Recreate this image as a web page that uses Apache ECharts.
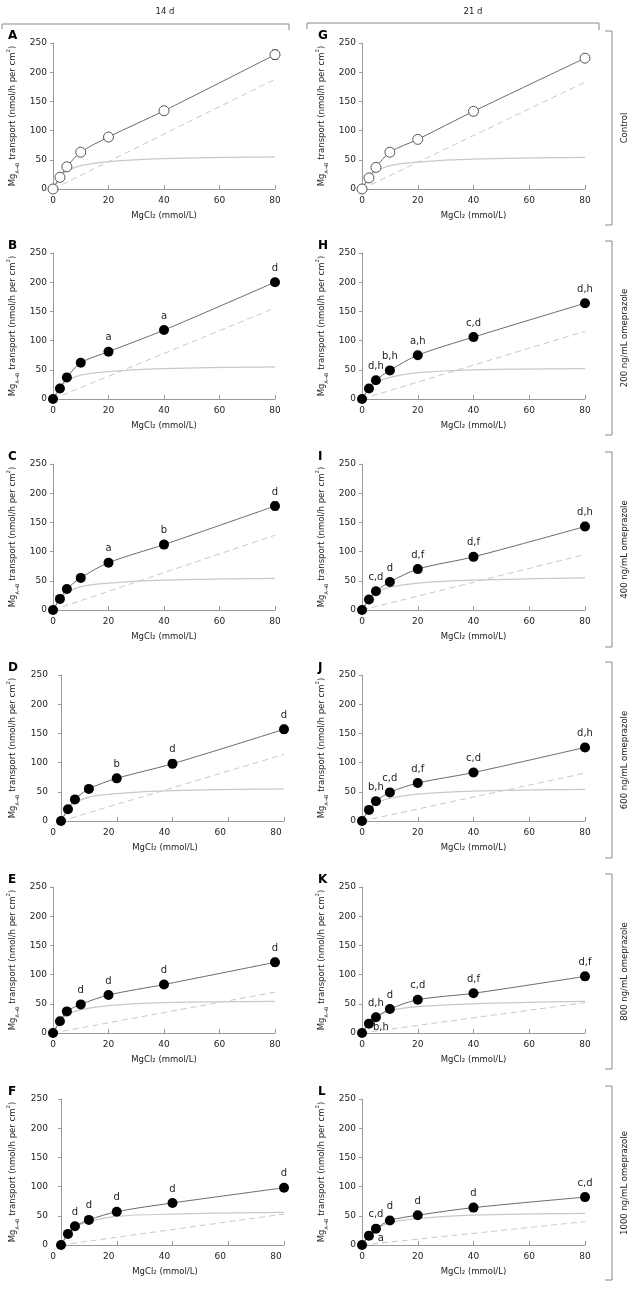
<!DOCTYPE html>
<html>
<head>
<meta charset="utf-8">
<script src="https://cdn.jsdelivr.net/npm/echarts@6/dist/echarts.min.js"></script>
<style>
html,body{margin:0;padding:0;background:#fff;}
#chart{width:636px;height:1291px;}
</style>
</head>
<body>
<div id="chart"></div>
<script>
// ---------- data ----------
const conc = [0, 2.5, 5, 10, 20, 40, 80];           // MgCl2 (mmol/L)
const xTickInterval = 20;
const yTickInterval = 50;
const columnTitles = ['14 d', '21 d'];
const rowTitles = ['Control', '200 ng/mL omeprazole', '400 ng/mL omeprazole',
                   '600 ng/mL omeprazole', '800 ng/mL omeprazole', '1000 ng/mL omeprazole'];
const panelLetters = ['A','B','C','D','E','F','G','H','I','J','K','L'];

// total transport (mean), SEM, saturable component, passive (linear) component end value, significance labels
const meanA = [0, 20, 38, 63, 89, 134, 230];
const semA  = [0, 2, 2, 3, 4, 5, 8];
const satA  = [0, 21, 31, 40, 47, 52, 55];
const linA  = [0, 188];
const sigA  = ['', '', '', '', '', '', ''];

const meanB = [0, 18, 37, 62, 81, 118, 200];
const semB  = [0, 2, 2, 3, 3, 4, 4];
const satB  = [0, 19, 31, 41, 47, 52, 55];
const linB  = [0, 156];
const sigB  = ['', '', '', '', 'a', 'a', 'd'];

const meanC = [0, 19, 36, 55, 81, 112, 178];
const semC  = [0, 2, 2, 3, 3, 6, 7];
const satC  = [0, 19, 30, 40, 46, 51, 54];
const linC  = [0, 128];
const sigC  = ['', '', '', '', 'a', 'b', 'd'];

const meanD = [0, 20, 37, 55, 73, 98, 157];
const semD  = [0, 2, 2, 3, 3, 7, 7];
const satD  = [0, 19, 31, 41, 47, 52, 55];
const linD  = [0, 114];
const sigD  = ['', '', '', '', 'b', 'd', 'd'];

const meanE = [0, 20, 37, 49, 65, 83, 121];
const semE  = [0, 2, 2, 3, 3, 4, 7];
const satE  = [0, 20, 31, 40, 47, 52, 54];
const linE  = [0, 70];
const sigE  = ['', '', '', 'd', 'd', 'd', 'd'];

const meanF = [0, 19, 32, 43, 57, 72, 98];
const semF  = [0, 2, 2, 3, 5, 3, 4];
const satF  = [0, 19, 31, 40, 49, 53, 56];
const linF  = [0, 53];
const sigF  = ['', '', 'd', 'd', 'd', 'd', 'd'];

const meanG = [0, 19, 37, 63, 85, 133, 224];
const semG  = [0, 2, 2, 3, 5, 5, 6];
const satG  = [0, 20, 30, 40, 46, 51, 54];
const linG  = [0, 183];
const sigG  = ['', '', '', '', '', '', ''];

const meanH = [0, 18, 32, 49, 75, 106, 164];
const semH  = [0, 2, 2, 2, 3, 5, 6];
const satH  = [0, 18, 28, 37, 45, 50, 52];
const linH  = [0, 116];
const sigH  = ['', '', 'd,h', 'b,h', 'a,h', 'c,d', 'd,h'];

const meanI = [0, 18, 32, 48, 70, 91, 143];
const semI  = [0, 2, 2, 3, 3, 6, 7];
const satI  = [0, 18, 30, 39, 46, 51, 55];
const linI  = [0, 95];
const sigI  = ['', '', 'c,d', 'd', 'd,f', 'd,f', 'd,h'];

const meanJ = [0, 19, 34, 49, 65, 83, 126];
const semJ  = [0, 2, 2, 3, 3, 6, 6];
const satJ  = [0, 19, 30, 39, 46, 51, 54];
const linJ  = [0, 82];
const sigJ  = ['', '', 'b,h', 'c,d', 'd,f', 'c,d', 'd,h'];

const meanK = [0, 16, 27, 41, 57, 68, 97];
const semK  = [0, 2, 2, 3, 3, 4, 6];
const satK  = [0, 16, 27, 38, 45, 50, 54];
const linK  = [0, 52];
const sigK  = ['', '', 'd,h', 'd', 'c,d', 'd,f', 'd,f'];
const sigLowK = ['', '', 'b,h', '', '', '', ''];

const meanL = [0, 16, 28, 42, 51, 64, 82];
const semL  = [0, 2, 2, 3, 3, 6, 6];
const satL  = [0, 16, 27, 38, 45, 51, 54];
const linL  = [0, 40];
const sigL  = ['', '', 'c,d', 'd', 'd', 'd', 'c,d'];
const sigLowL = ['', '', 'a', '', '', '', ''];

const panels = [
  {mean: meanA, sem: semA, sat: satA, lin: linA, sig: sigA, open: true},
  {mean: meanB, sem: semB, sat: satB, lin: linB, sig: sigB},
  {mean: meanC, sem: semC, sat: satC, lin: linC, sig: sigC},
  {mean: meanD, sem: semD, sat: satD, lin: linD, sig: sigD, shifted: true},
  {mean: meanE, sem: semE, sat: satE, lin: linE, sig: sigE},
  {mean: meanF, sem: semF, sat: satF, lin: linF, sig: sigF, shifted: true},
  {mean: meanG, sem: semG, sat: satG, lin: linG, sig: sigG, open: true},
  {mean: meanH, sem: semH, sat: satH, lin: linH, sig: sigH},
  {mean: meanI, sem: semI, sat: satI, lin: linI, sig: sigI},
  {mean: meanJ, sem: semJ, sat: satJ, lin: linJ, sig: sigJ},
  {mean: meanK, sem: semK, sat: satK, lin: linK, sig: sigK, low: sigLowK},
  {mean: meanL, sem: semL, sat: satL, lin: linL, sig: sigL, low: sigLowL}
];

// ---------- layout ----------
const FONT = 'DejaVu Sans';
const TXT = '#222';
const AXIS = '#9a9a9a';
const rowTops = [43, 253, 464, 675, 887, 1099];
const plotH = 146;
const bracketTops = [31, 241, 452, 662, 874, 1086];
const bracketBottoms = [225, 435, 647, 858, 1069, 1280];

const grids = [], xAxes = [], yAxes = [], series = [], graphics = [];

panels.forEach((p, i) => {
  const col = i < 6 ? 0 : 1;
  const row = i % 6;
  const sh = !!p.shifted;
  const left = col === 0 ? (sh ? 61 : 53) : 362;
  const width = col === 0 ? (sh ? 223 : 222) : 223;
  grids.push({left: left, top: rowTops[row], width: width, height: plotH});

  xAxes.push({
    gridIndex: i, type: 'value', min: 0, max: 80, interval: xTickInterval,
    axisLine: {show: true, lineStyle: {color: AXIS, width: 1}},
    axisTick: {show: true, inside: true, length: 4, lineStyle: {color: AXIS}},
    splitLine: {show: false},
    axisLabel: {fontSize: 9, color: TXT, fontFamily: FONT, margin: 7, padding: sh ? [0, 16, 0, 0] : 0},
    name: 'MgCl\u2082 (mmol/L)', nameLocation: 'middle', nameGap: 22,
    nameTextStyle: {fontSize: 8.5, color: TXT, fontFamily: FONT, padding: sh ? [0, 15, 0, 0] : 0}
  });
  yAxes.push({
    gridIndex: i, type: 'value', min: 0, max: 250, interval: yTickInterval,
    axisLine: {show: true, lineStyle: {color: AXIS, width: 1}},
    axisTick: {show: true, inside: false, length: 3, lineStyle: {color: AXIS}},
    splitLine: {show: false},
    axisLabel: {fontSize: 9, color: TXT, fontFamily: FONT, margin: sh ? 13 : 6},
    name: 'Mg{s|A\u2192B} transport (nmol/h per cm{p|2})',
    nameLocation: 'middle', nameGap: sh ? 41 : 33,
    nameTextStyle: {
      fontSize: 8.5, color: TXT, fontFamily: FONT,
      rich: {
        s: {fontSize: 5, fontFamily: FONT, color: TXT, verticalAlign: 'bottom', lineHeight: 8},
        p: {fontSize: 5.5, fontFamily: FONT, color: TXT, verticalAlign: 'top', lineHeight: 14}
      }
    }
  });

  // passive (linear) component
  series.push({
    type: 'line', xAxisIndex: i, yAxisIndex: i, silent: true, symbol: 'none',
    data: [[conc[0], p.lin[0]], [conc[conc.length - 1], p.lin[1]]],
    lineStyle: {color: '#c8c8c8', width: 1, type: [6, 4]}, z: 1
  });
  // saturable component
  series.push({
    type: 'line', xAxisIndex: i, yAxisIndex: i, silent: true, symbol: 'none',
    smooth: 0.35,
    data: conc.map((x, j) => [x, p.sat[j]]),
    lineStyle: {color: '#c8c8c8', width: 1.2}, z: 1
  });
  // total transport curve
  series.push({
    type: 'line', xAxisIndex: i, yAxisIndex: i, silent: true, symbol: 'none',
    smooth: 0.3,
    data: conc.map((x, j) => [x, p.mean[j]]),
    lineStyle: {color: '#6a6a6a', width: 1}, z: 2
  });
  // error bars
  series.push({
    type: 'custom', xAxisIndex: i, yAxisIndex: i, silent: true, z: 3,
    data: conc.map((x, j) => [x, p.mean[j], p.sem[j]]),
    renderItem: function (params, api) {
      const x = api.value(0), y = api.value(1), e = api.value(2);
      if (!e) return null;
      const t = api.coord([x, y + e]);
      const b = api.coord([x, y - e]);
      const w = 3;
      const st = {stroke: '#555', lineWidth: 1};
      return {type: 'group', children: [
        {type: 'line', shape: {x1: t[0], y1: t[1], x2: b[0], y2: b[1]}, style: st},
        {type: 'line', shape: {x1: t[0] - w, y1: t[1], x2: t[0] + w, y2: t[1]}, style: st},
        {type: 'line', shape: {x1: b[0] - w, y1: b[1], x2: b[0] + w, y2: b[1]}, style: st}
      ]};
    }
  });
  // data points with significance labels
  series.push({
    type: 'scatter', xAxisIndex: i, yAxisIndex: i, silent: true, z: 4,
    symbol: 'circle', symbolSize: 10,
    itemStyle: p.open ? {color: '#fff', borderColor: '#555', borderWidth: 1, opacity: 1} : {color: '#000', opacity: 1},
    data: conc.map((x, j) => ({
      value: [x, p.mean[j]],
      label: {show: !!p.sig[j], formatter: p.sig[j]}
    })),
    label: {position: 'top', distance: 4, fontSize: 10, color: TXT, fontFamily: FONT}
  });
  if (p.low) {
    series.push({
      type: 'scatter', xAxisIndex: i, yAxisIndex: i, silent: true, z: 5,
      symbol: 'circle', symbolSize: 10,
      itemStyle: {color: 'rgba(0,0,0,0)', opacity: 1},
      data: conc.map((x, j) => ({
        value: [x, p.mean[j]],
        label: {show: !!p.low[j], formatter: p.low[j]}
      })),
      label: {position: 'bottom', distance: 0, offset: [5, 0], fontSize: 10, color: TXT, fontFamily: FONT}
    });
  }

  // panel letter
  graphics.push({
    type: 'text', left: col === 0 ? 8 : 318, top: rowTops[row] - 13,
    style: {text: panelLetters[i], font: 'bold 12px "DejaVu Sans"', fill: '#000'}
  });
});

// column headers and brackets
graphics.push({type: 'text', x: 165, y: 12, style: {text: columnTitles[0], font: '8.5px "DejaVu Sans"', fill: TXT, align: 'center', verticalAlign: 'middle'}});
graphics.push({type: 'text', x: 473, y: 12, style: {text: columnTitles[1], font: '8.5px "DejaVu Sans"', fill: TXT, align: 'center', verticalAlign: 'middle'}});
graphics.push({type: 'polyline', shape: {points: [[2, 29], [2, 24], [289, 24], [289, 30]]}, style: {stroke: '#888', lineWidth: 1, fill: null}});
graphics.push({type: 'polyline', shape: {points: [[307, 29], [307, 23], [599, 23], [599, 30]]}, style: {stroke: '#888', lineWidth: 1, fill: null}});

// row brackets and labels
rowTitles.forEach((t, r) => {
  const a = bracketTops[r], b = bracketBottoms[r];
  graphics.push({type: 'polyline', shape: {points: [[605, a], [612, a], [612, b], [605, b]]}, style: {stroke: '#888', lineWidth: 1, fill: null}});
  graphics.push({type: 'text', x: 625, y: (a + b) / 2, rotation: Math.PI / 2,
    style: {text: t, font: '8.5px "DejaVu Sans"', fill: TXT, align: 'center', verticalAlign: 'middle'}});
});

const chart = echarts.init(document.getElementById('chart'), null, {renderer: 'canvas'});
chart.setOption({
  animation: false,
  backgroundColor: '#fff',
  grid: grids,
  xAxis: xAxes,
  yAxis: yAxes,
  series: series,
  graphic: graphics
});
</script>
</body>
</html>
